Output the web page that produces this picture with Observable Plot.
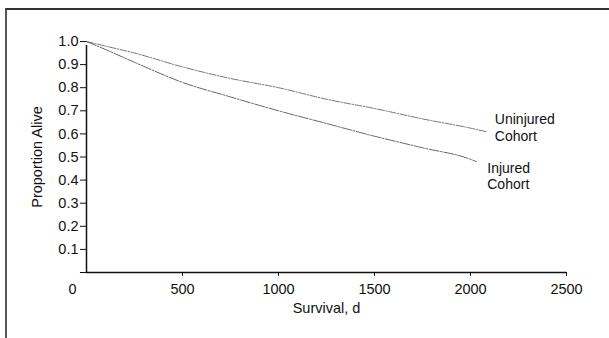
<!DOCTYPE html>
<html>
<head>
<meta charset="utf-8">
<script src="https://cdn.jsdelivr.net/npm/d3@7"></script>
<script src="https://cdn.jsdelivr.net/npm/@observablehq/plot@0.6"></script>
<style>
  html, body { margin: 0; padding: 0; background: #fff; }
  #wrap { position: relative; width: 609px; height: 338px; overflow: hidden; }
  #frame { position: absolute; left: 5px; top: 8px; width: 604px; height: 340px;
           border-left: 2px solid #555; border-top: 2px solid #333; box-sizing: border-box; }
  #chart { position: absolute; left: 0; top: 0; }
  #chart svg text { font-family: 'Liberation Sans', Arial, sans-serif; fill: #111; }
</style>
</head>
<body>
<div id="wrap"><div id="frame"></div><div id="chart"></div></div>
<script>
// Survival days (x) and proportion alive (y) for each cohort
const uninjuredDays = [0, 100, 250, 500, 750, 1000, 1250, 1500, 1750, 2000, 2080];
const uninjuredAlive = [1.0, 0.98, 0.95, 0.89, 0.84, 0.80, 0.75, 0.71, 0.665, 0.625, 0.61];
const injuredDays = [0, 100, 250, 500, 750, 1000, 1250, 1500, 1750, 2000, 2030];
const injuredAlive = [1.0, 0.965, 0.91, 0.823, 0.76, 0.70, 0.645, 0.59, 0.54, 0.49, 0.48];
const seriesLabels = ["Uninjured\nCohort", "Injured\nCohort"];
const xTicks = [500, 1000, 1500, 2000, 2500];
const yTicks = [0, 0.1, 0.2, 0.3, 0.4, 0.5, 0.6, 0.7, 0.8, 0.9, 1.0];

const uninjured = uninjuredDays.map((d, i) => ({day: d, alive: uninjuredAlive[i]}));
const injured = injuredDays.map((d, i) => ({day: d, alive: injuredAlive[i]}));
const uninjuredEnd = [{...uninjured[uninjured.length - 1], label: seriesLabels[0]}];
const injuredEnd = [{...injured[injured.length - 1], label: seriesLabels[1]}];

const chart = Plot.plot({
  width: 609,
  height: 338,
  marginLeft: 86,
  marginRight: 43,
  marginTop: 41,
  marginBottom: 66,
  style: {fontFamily: "'Liberation Sans', Arial, sans-serif", fontSize: "14.5px", color: "#111", background: "transparent"},
  x: {domain: [0, 2500]},
  y: {domain: [0, 1]},
  marks: [
    Plot.axisY({
      ticks: yTicks, tickSize: 6, tickPadding: 2,
      tickFormat: d => d === 0 ? "" : d.toFixed(1),
      label: "Proportion Alive", labelAnchor: "center", labelArrow: "none", labelOffset: 55
    }),
    Plot.axisX({
      ticks: xTicks, tickSize: 4, tickPadding: 7,
      tickFormat: d => String(d),
      label: "Survival, d", labelAnchor: "center", labelArrow: "none", labelOffset: 40
    }),
    Plot.text([0], {x: d => d, frameAnchor: "bottom", dx: -14, dy: 17, text: d => String(d), lineAnchor: "middle"}),
    Plot.ruleX([0], {y1: 0, y2: 1, stroke: "#111", strokeWidth: 1.5, insetBottom: -4}),
    Plot.ruleY([0], {x1: 0, x2: 2500, stroke: "#111", strokeWidth: 1.5}),
    Plot.line(uninjured, {x: "day", y: "alive", curve: "monotone-x", stroke: "#666", strokeWidth: 0.9, strokeDasharray: "7,1.5,1.5,1.5"}),
    Plot.line(injured, {x: "day", y: "alive", curve: "monotone-x", stroke: "#555", strokeWidth: 0.9, strokeDasharray: "10,1.5,2,1.5"}),
    Plot.text(uninjuredEnd, {x: "day", y: "alive", text: "label", dx: 9, dy: -4.5, textAnchor: "start", lineAnchor: "middle", lineHeight: 1.2, fontSize: 14}),
    Plot.text(injuredEnd, {x: "day", y: "alive", text: "label", dx: 11, dy: 14, textAnchor: "start", lineAnchor: "middle", lineHeight: 1.2, fontSize: 14})
  ]
});
document.getElementById("chart").appendChild(chart);
</script>
</body>
</html>
